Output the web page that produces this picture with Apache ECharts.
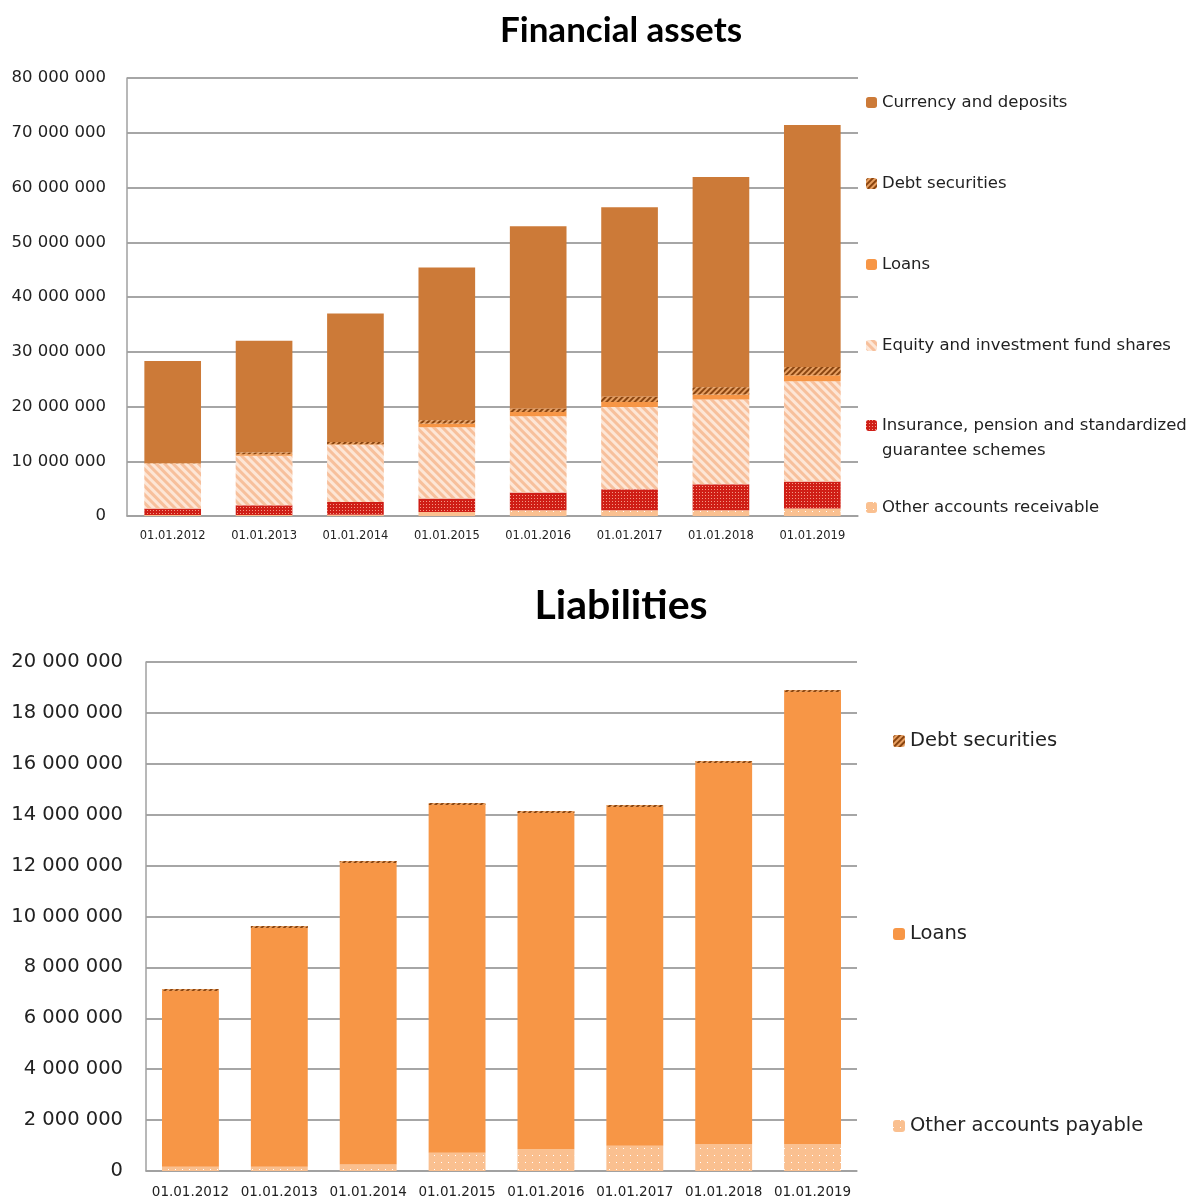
<!DOCTYPE html>
<html>
<head>
<meta charset="utf-8">
<script src="https://cdn.jsdelivr.net/npm/echarts@6/dist/echarts.min.js"></script>
<style>
html,body{margin:0;padding:0;background:#fff;}
#c{width:1200px;height:1200px;}
</style>
</head>
<body>
<div id="c"></div>
<script>
// ---- data ----
var categories = ['01.01.2012','01.01.2013','01.01.2014','01.01.2015','01.01.2016','01.01.2017','01.01.2018','01.01.2019'];

// Financial assets (stack order bottom -> top)
var assetsOtherReceivable = [200000, 200000, 250000, 730000, 1050000, 1050000, 1050000, 1350000];
var assetsInsurance       = [1150000, 1750000, 2310000, 2470000, 3250000, 3850000, 4750000, 4950000];
var assetsEquity          = [8250000, 9050000, 10440000, 13000000, 13900000, 15000000, 15500000, 18300000];
var assetsLoans           = [50000, 300000, 100000, 700000, 800000, 900000, 900000, 1100000];
var assetsDebt            = [50000, 300000, 400000, 600000, 600000, 1000000, 1300000, 1500000];
var assetsCurrency        = [18600000, 20400000, 23500000, 27900000, 33300000, 34600000, 38400000, 44200000];

// Liabilities (stack order bottom -> top)
var liabOtherPayable = [170000, 170000, 260000, 720000, 850000, 990000, 1060000, 1060000];
var liabLoans        = [6900000, 9380000, 11840000, 13660000, 13220000, 13310000, 14970000, 17760000];
var liabDebt         = [80000, 80000, 80000, 80000, 80000, 80000, 80000, 80000];

var assetsTicks = {min: 0, max: 80000000, interval: 10000000};
var liabTicks   = {min: 0, max: 20000000, interval: 2000000};

var INSURANCE = 'Insurance, pension and standardized guarantee schemes';

// ---- styles ----
var FONT = 'DejaVu Sans';
function fmt(v){ return String(v).replace(/\B(?=(\d{3})+(?!\d))/g, ' '); }

var stCurrency = {color:'#CC7A38'};
var stDebt = {color:'#E8A062', decal:{symbol:'rect', symbolSize:1, color:'#8A4510', dashArrayX:[1,0], dashArrayY:[2,2], rotation:-Math.PI/4}};
var stLoans = {color:'#F79646'};
var stEquity = {color:'#FDE6D6', decal:{symbol:'rect', symbolSize:1, color:'#F7C09C', dashArrayX:[1,0], dashArrayY:[3,3], rotation:Math.PI/4}};
var stInsurance = {color:'#CF1E16', decal:{symbol:'rect', symbolSize:1, color:'#F39A86', dashArrayX:[1,2], dashArrayY:[1,2]}};
var stOther = {color:'#FAC090', decal:{symbol:'rect', symbolSize:1, color:'#FFFFFF', dashArrayX:[1,6], dashArrayY:[1,6]}};

function bar(name, data, style, idx, width){
  return {name:name, type:'bar', stack: idx===0?'assets':'liab', xAxisIndex:idx, yAxisIndex:idx,
    barWidth: width, data:data, itemStyle:style, emphasis:{disabled:true}};
}

function leg(name, left, top, size, iconSize, extra){
  var l = {data:[name], left:left, top:top, orient:'vertical', padding:0, itemWidth: iconSize, itemHeight: iconSize,
    itemGap:0, selectedMode:false, textStyle:{fontFamily:FONT, fontSize:size, color:'#222'}};
  if (extra) { for (var k in extra) l[k] = extra[k]; }
  return l;
}

var axisLine = {lineStyle:{color:'#A0A0A0', width:1.5}};

var option = {
  animation:false,
  backgroundColor:'#fff',
  title:[
    {text:'Financial assets', left:616, top:8, textAlign:'center', textStyle:{fontFamily:'Lato', fontWeight:'bold', fontSize:35, color:'#000'}},
    {text:'Liabilities', left:616, top:580, textAlign:'center', textStyle:{fontFamily:'Lato', fontWeight:'bold', fontSize:41, color:'#000'}}
  ],
  legend:[
    leg('Currency and deposits', 866, 94, 16.5, 11),
    leg('Debt securities', 866, 175, 16.5, 11),
    leg('Loans', 866, 256, 16.5, 11),
    leg('Equity and investment fund shares', 866, 337, 16.5, 11),
    leg(INSURANCE, 866, 388, 16.5, 11, {
      formatter: function(){ return ' \nInsurance, pension and standardized\nguarantee schemes'; },
      textStyle:{fontFamily:FONT, fontSize:16.5, color:'#222', lineHeight:25}}),
    leg('Other accounts receivable', 866, 499, 16.5, 11),
    leg('Debt securities', 893, 731, 19.5, 12),
    leg('Loans', 893, 924, 19.5, 12),
    leg('Other accounts payable', 893, 1116, 19.5, 12)
  ],
  grid:[
    {left:127, top:78, width:731, height:438},
    {left:146, top:662, width:711, height:509}
  ],
  xAxis:[
    {type:'category', gridIndex:0, data:categories, axisLine:axisLine, axisTick:{length:5, lineStyle:{color:'#A0A0A0'}},
     axisLabel:{interval:0, fontFamily:FONT, fontSize:11.5, color:'#222', margin:14}},
    {type:'category', gridIndex:1, data:categories, axisLine:axisLine, axisTick:{length:5, lineStyle:{color:'#A0A0A0'}},
     axisLabel:{interval:0, fontFamily:FONT, fontSize:13.5, color:'#222', margin:14}}
  ],
  yAxis:[
    {type:'value', gridIndex:0, min:assetsTicks.min, max:assetsTicks.max, interval:assetsTicks.interval,
     axisLine:{show:true, lineStyle:{color:'#A0A0A0', width:1.5}}, axisTick:{show:false},
     splitLine:{lineStyle:{color:'#A6A6A6', width:2}},
     axisLabel:{fontFamily:FONT, fontSize:16.5, color:'#222', margin:21, formatter:fmt}},
    {type:'value', gridIndex:1, min:liabTicks.min, max:liabTicks.max, interval:liabTicks.interval,
     axisLine:{show:true, lineStyle:{color:'#A0A0A0', width:1.5}}, axisTick:{show:false},
     splitLine:{lineStyle:{color:'#A6A6A6', width:2}},
     axisLabel:{fontFamily:FONT, fontSize:19.5, color:'#222', margin:23, formatter:fmt}}
  ],
  series:[
    bar('Other accounts receivable', assetsOtherReceivable, stOther, 0, '62%'),
    bar(INSURANCE, assetsInsurance, stInsurance, 0, '62%'),
    bar('Equity and investment fund shares', assetsEquity, stEquity, 0, '62%'),
    bar('Loans', assetsLoans, stLoans, 0, '62%'),
    bar('Debt securities', assetsDebt, stDebt, 0, '62%'),
    bar('Currency and deposits', assetsCurrency, stCurrency, 0, '62%'),
    bar('Other accounts payable', liabOtherPayable, stOther, 1, '64%'),
    bar('Loans', liabLoans, stLoans, 1, '64%'),
    bar('Debt securities', liabDebt, stDebt, 1, '64%')
  ]
};

var chart = echarts.init(document.getElementById('c'), null, {renderer:'canvas'});
chart.setOption(option);
</script>
</body>
</html>
